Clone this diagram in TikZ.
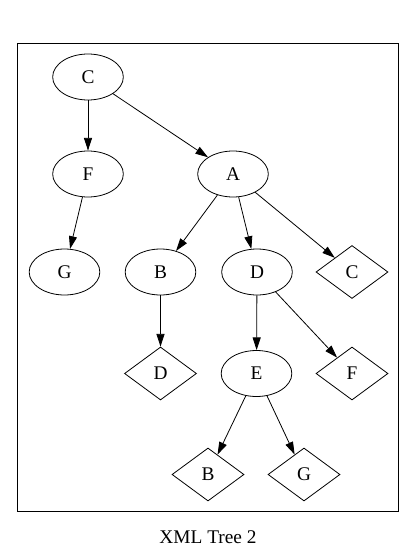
\documentclass[tikz,border=0pt]{standalone}
\usepackage{fontspec}
\setmainfont{Liberation Serif}
\usetikzlibrary{shapes.geometric,arrows.meta}
\begin{document}
\begin{tikzpicture}[x=0.75pt,y=-0.75pt,
  lbl/.style={font=\fontsize{14.5}{16}\selectfont},
  ell/.style={lbl,draw,ellipse,minimum width=53pt,minimum height=34.5pt,inner sep=0pt,line width=0.6pt},
  dia/.style={lbl,draw,diamond,minimum width=54pt,minimum height=39.75pt,inner sep=0pt,line width=0.6pt},
  edge/.style={-{Triangle[length=9.5pt,width=6pt]},line width=0.6pt}]
\useasboundingbox (0,0) rectangle (414,556);
\draw[line width=0.75pt] (17.5,43.5) rectangle (398.5,511.5);
\node[ell] (c) at (88,77) {C};
\node[ell] (f) at (88,174) {F};
\node[ell] (a) at (233,174) {A};
\node[ell] (g) at (64.5,272) {G};
\node[ell] (b) at (160.5,272) {B};
\node[ell] (d) at (257,272) {D};
\node[dia] (c2) at (352,272) {C};
\node[dia] (d2) at (160.5,373.5) {D};
\node[ell] (e) at (256.5,373.5) {E};
\node[dia] (f2) at (352,373.5) {F};
\node[dia] (b2) at (208,474.5) {B};
\node[dia] (g2) at (304,474.5) {G};
\node[lbl] (cap) at (208,537) {XML Tree 2};
\draw[edge] (c) -- (f);
\draw[edge] (c) -- (a);
\draw[edge] (f) -- (g);
\draw[edge] (a) -- (b);
\draw[edge] (a) -- (d);
\draw[edge] (a) -- (c2);
\draw[edge] (b) -- (d2);
\draw[edge] (d) -- (e);
\draw[edge] (d) -- (f2);
\draw[edge] (e) -- (b2);
\draw[edge] (e) -- (g2);
\end{tikzpicture}
\end{document}
